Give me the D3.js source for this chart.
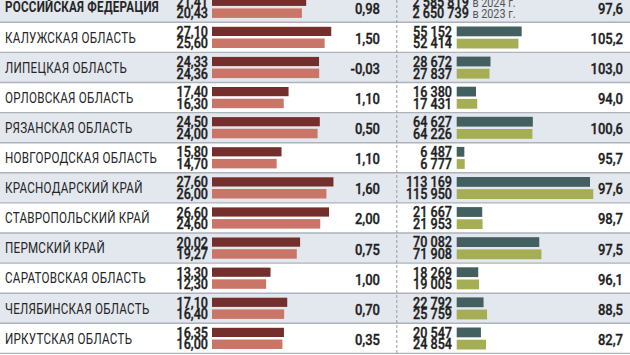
<!DOCTYPE html>
<html><head><meta charset="utf-8">
<script src="https://cdn.jsdelivr.net/npm/d3@7"></script>
<style>
html,body{margin:0;padding:0;background:#fff;overflow:hidden}
svg{display:block}
text{font-family:Roboto,'Noto Sans',sans-serif}
</style></head><body>
<script>
const regions = ["РОССИЙСКАЯ ФЕДЕРАЦИЯ","КАЛУЖСКАЯ ОБЛАСТЬ","ЛИПЕЦКАЯ ОБЛАСТЬ","ОРЛОВСКАЯ ОБЛАСТЬ","РЯЗАНСКАЯ ОБЛАСТЬ","НОВГОРОДСКАЯ ОБЛАСТЬ","КРАСНОДАРСКИЙ КРАЙ","СТАВРОПОЛЬСКИЙ КРАЙ","ПЕРМСКИЙ КРАЙ","САРАТОВСКАЯ ОБЛАСТЬ","ЧЕЛЯБИНСКАЯ ОБЛАСТЬ","ИРКУТСКАЯ ОБЛАСТЬ"];
const rate2024 = [21.41,27.10,24.33,17.40,24.50,15.80,27.60,26.60,20.02,13.30,17.10,16.35];
const rate2023 = [20.43,25.60,24.36,16.30,24.00,14.70,26.00,24.60,19.27,12.30,16.40,16.00];
const change = [0.98,1.50,-0.03,1.10,0.50,1.10,1.60,2.00,0.75,1.00,0.70,0.35];
const count2024 = [2585819,55152,28672,16380,64627,6487,113169,21667,70082,18269,22792,20547];
const count2023 = [2650739,52414,27837,17431,64226,6777,115950,21953,71908,19005,25759,24854];
const ratio = [97.6,105.2,103.0,94.0,100.6,95.7,97.6,98.7,97.5,96.1,88.5,82.7];
const yearLabels = ["в 2024 г.","в 2023 г."];

const W=630,H=355;
const svg=d3.select("body").append("svg").attr("width",W).attr("height",H);
const idx=d3.range(regions.length);
const y=d3.scaleBand().domain(idx).range([-7.8,-7.8+12*30.1]).paddingInner(0);
const xL=d3.scaleLinear().domain([0,10]).range([212,256]);
const xR=d3.scaleLinear().domain([0,100000]).range([456.7,574.5]);
const fmtDec=v=>d3.format(".2f")(v).replace(".",",").replace("−","-");
const fmt1=v=>d3.format(".1f")(v).replace(".",",");
const fmtSp=v=>d3.format(",")(v).replace(/,/g," ");

svg.selectAll("rect.bg").data(idx).join("rect").attr("class","bg")
 .attr("x",0).attr("width",W).attr("y",i=>y(i)).attr("height",y.bandwidth())
 .attr("fill",i=>i%2===0?"#e3e7ee":"#ffffff");
svg.selectAll("line.sep").data(d3.range(1,13)).join("line").attr("class","sep")
 .attr("x1",0).attr("x2",W).attr("y1",i=>y(0)+i*y.step()).attr("y2",i=>y(0)+i*y.step())
 .attr("stroke","#adb2bb").attr("stroke-width",1.4);
svg.append("line").attr("x1",396.8).attr("x2",396.8).attr("y1",0).attr("y2",H)
 .attr("stroke","#9a9a9a").attr("stroke-width",1).attr("stroke-dasharray","3,2");

const g=svg.selectAll("g.row").data(idx).join("g").attr("class","row")
 .attr("transform",i=>`translate(0,${y(i)})`);

function ctext(sel,x,yy,sx,size,weight,anchor,txt){
  return sel.append("g").attr("transform",`translate(${x},${yy}) scale(${sx},1)`)
   .append("text").attr("x",0).attr("y",0).attr("font-size",size)
   .attr("font-weight",weight).attr("text-anchor",anchor).attr("fill","#1e1e1e").text(txt);
}
function num(sel,x,yy,sx,size,anchor,txt){
  return ctext(sel,x,yy,sx,size,500,anchor,txt).attr("stroke","#1e1e1e").attr("stroke-width",0.35);
}

g.each(function(i){
  const s=d3.select(this);
  ctext(s,5,20.3,0.83,14,i===0?700:400,"start",regions[i]).attr("letter-spacing",0.3).attr("fill","#262626");
  num(s,208,14.6,0.9,14,"end",fmtDec(rate2024[i]));
  num(s,208,26.1,0.9,14,"end",fmtDec(rate2023[i]));
  num(s,380,21.5,0.88,14.8,"end",fmtDec(change[i]));
  num(s,623,21.5,0.88,14.8,"end",fmt1(ratio[i]));
  if(i>0){
    num(s,452,14.4,0.9,14,"end",fmtSp(count2024[i]));
    num(s,452,26.1,0.9,14,"end",fmtSp(count2023[i]));
  } else {
    [count2024[0],count2023[0]].forEach((v,k)=>{
      const t=num(s,412.5,k===0?14.4:26.1,0.9,14,"start","");
      t.append("tspan").text(fmtSp(v));
      t.append("tspan").attr("font-size",12).attr("font-weight",400).attr("stroke","none").attr("fill","#555").attr("dx",4).text(yearLabels[k]);
    });
  }
});

g.append("rect").attr("x",xL(0)).attr("y",4.5).attr("height",9.2)
 .attr("width",i=>xL(rate2024[i])-xL(0)).attr("fill","#742e2b");
g.append("rect").attr("x",xL(0)).attr("y",16.2).attr("height",9.5)
 .attr("width",i=>xL(rate2023[i])-xL(0)).attr("fill","#c97668");

const gr=g.filter(i=>i>0);
gr.append("rect").attr("x",xR(0)).attr("y",4.2).attr("height",9.8)
 .attr("width",i=>xR(count2024[i])-xR(0)).attr("fill","#435f60");
gr.append("rect").attr("x",xR(0)).attr("y",16.4).attr("height",9.8)
 .attr("width",i=>xR(count2023[i])-xR(0)).attr("fill","#a5ad55");
</script>
</body></html>
